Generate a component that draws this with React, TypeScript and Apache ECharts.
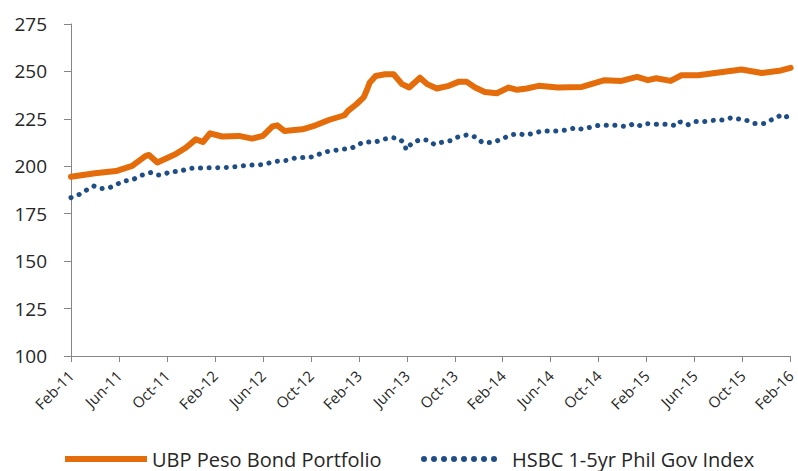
import React, { useEffect, useRef } from "react";
import * as echarts from "echarts";

// Month offsets from Feb-11 (0) to Feb-16 (60)
const tickLabels = [
  "Feb-11", "Jun-11", "Oct-11", "Feb-12", "Jun-12", "Oct-12", "Feb-13", "Jun-13",
  "Oct-13", "Feb-14", "Jun-14", "Oct-14", "Feb-15", "Jun-15", "Oct-15", "Feb-16",
];

const ubpMonths = [
  0, 2.0, 3.75, 5.1, 6.2, 6.5, 7.2, 8.7, 9.6, 10.4, 11.0, 11.6, 12.6, 14.0, 15.1, 16.0,
  16.8, 17.2, 17.8, 19.3, 20.4, 21.5, 22.8, 23.1, 23.8, 24.4, 24.7, 24.9, 25.4, 26.2,
  26.9, 27.6, 28.2, 29.1, 29.7, 30.5, 31.5, 32.3, 33.0, 33.7, 34.5, 35.5, 36.5, 37.2,
  38.0, 39.0, 40.6, 42.6, 44.5, 45.9, 47.2, 48.1, 48.8, 50.0, 50.9, 52.3, 53.7, 55.9,
  57.6, 59.2, 60,
];
const ubpValues = [
  194.5, 196.3, 197.5, 200.2, 205.4, 206, 202, 206.3, 209.9, 214.2, 212.8, 217.4, 215.7,
  216, 214.6, 216, 221, 221.6, 218.6, 219.5, 221.6, 224.4, 226.9, 229.2, 232.7, 236.3,
  240.6, 244, 247.6, 248.5, 248.5, 243.3, 241.5, 246.7, 243.3, 241, 242.4, 244.5, 244.5,
  241.5, 239.2, 238.5, 241.5, 240.3, 241, 242.4, 241.5, 241.8, 245.4, 245, 247.1, 245.4,
  246.4, 245, 248, 248, 249.2, 251, 249.2, 250.5, 251.9,
];

const hsbcMonths = [
  0, 0.7, 1.4, 1.9, 2.5, 3.2, 3.7, 4.3, 5.1, 5.9, 6.65, 7.2, 7.75, 8.3, 9.1, 9.55, 10.25,
  10.95, 12.6, 13.5, 14.6, 16.0, 17.0, 18.1, 18.8, 19.9, 20.6, 21.4, 22.6, 23.3, 23.75,
  24.4, 25.4, 26.0, 26.8, 27.35, 27.8, 27.95, 28.4, 29.15, 29.8, 30.3, 31.0, 31.65, 32.2,
  33.1, 33.85, 34.3, 35.1, 35.9, 36.6, 37.3, 37.9, 38.5, 39.3, 40.8, 41.5, 42.2, 42.6,
  44.0, 45.5, 46.3, 47.0, 47.5, 48.0, 48.8, 49.8, 50.5, 50.8, 51.4, 52.1, 52.8, 53.8,
  54.45, 55.1, 55.75, 56.3, 57.0, 57.8, 58.5, 59.2, 59.5, 60,
];
const hsbcValues = [
  183.5, 185.2, 187.9, 189.6, 188.2, 188.7, 190, 192.1, 192.8, 195.3, 196.7, 195.3, 195.8,
  197.2, 197.2, 198.4, 199.1, 199.1, 199.3, 199.6, 200.5, 200.9, 202.5, 203.2, 204.6,
  204.6, 206.2, 207.8, 209, 209.3, 210.7, 212.8, 212.8, 214.2, 215.1, 214.6, 212.1, 208.6,
  212.1, 214.2, 213.7, 211.5, 212.8, 213.5, 215.3, 216.7, 215.1, 212.5, 212.5, 214.2,
  216.4, 217.3, 216.4, 217.3, 218.6, 218.6, 219.5, 220.4, 219.5, 221.6, 221.6, 220.9,
  222.5, 221.3, 222.5, 222.2, 222.2, 221.3, 223.4, 221.8, 223.6, 223.6, 224.4, 224.4,
  225.7, 224.8, 224.3, 222.5, 222.5, 224.8, 226.9, 225.7, 227,
];

const seriesNames = ["UBP Peso Bond Portfolio", "HSBC 1-5yr Phil Gov Index"];

const FONT = "Open Sans";
const ORANGE = "#E46C0A";
const BLUE = "#1F4E86";

// legend icons
const solidIcon = "path://M0,0H82V6H0Z";
const dotIcon =
  "path://" +
  [0, 1, 2, 3, 4, 5, 6, 7]
    .map((i) => `M${i * 10},3a3,3 0 1,0 6,0a3,3 0 1,0 -6,0Z`)
    .join("") +
  "M85.98,0h0.02v6h-0.02Z";

const legendText = { fontFamily: FONT, fontSize: 20, color: "#262626" };

export default function App() {
  const ref = useRef<HTMLDivElement>(null);
  useEffect(() => {
    if (!ref.current) return;
    const chart = echarts.init(ref.current, null, { renderer: "svg" });
    chart.setOption({
      animation: false,
      backgroundColor: "#ffffff",
      grid: { left: 71, right: 5, top: 24, bottom: 115, containLabel: false },
      legend: [
        {
          left: 60,
          top: 444,
          itemWidth: 82,
          itemHeight: 6,
          textStyle: legendText,
          data: [{ name: seriesNames[0], icon: solidIcon }],
        },
        {
          left: 416,
          top: 444,
          itemWidth: 86,
          itemHeight: 6,
          textStyle: legendText,
          data: [{ name: seriesNames[1], icon: dotIcon }],
        },
      ],
      xAxis: {
        type: "value",
        min: 0,
        max: 60,
        interval: 4,
        axisLine: { show: true, lineStyle: { color: "#868686", width: 1 } },
        axisTick: { show: true, length: 6, inside: false, lineStyle: { color: "#868686" } },
        splitLine: { show: false },
        axisLabel: {
          rotate: 45,
          margin: 17,
          fontFamily: FONT,
          fontSize: 15,
          color: "#262626",
          formatter: (v: number) => tickLabels[Math.round(v / 4)] ?? "",
        },
      },
      yAxis: {
        type: "value",
        min: 100,
        max: 275,
        interval: 25,
        axisLine: { show: true, lineStyle: { color: "#868686", width: 1 } },
        axisTick: { show: true, length: 7, lineStyle: { color: "#868686" } },
        splitLine: { show: false },
        axisLabel: {
          margin: 24,
          fontFamily: FONT,
          fontSize: 19,
          color: "#262626",
        },
      },
      series: [
        {
          name: seriesNames[0],
          type: "line",
          data: ubpMonths.map((m, i) => [m, ubpValues[i]]),
          showSymbol: false,
          symbol: "none",
          color: ORANGE,
          lineStyle: { color: ORANGE, width: 6, join: "round", cap: "round" },
          z: 3,
        },
        {
          name: seriesNames[1],
          type: "line",
          data: hsbcMonths.map((m, i) => [m, hsbcValues[i]]),
          showSymbol: false,
          symbol: "none",
          color: BLUE,
          lineStyle: { color: BLUE, width: 5, type: [0.1, 8.5], cap: "round" },
          z: 2,
        },
      ],
    });
    return () => chart.dispose();
  }, []);
  return (
    <div
      ref={ref}
      style={{ position: "fixed", left: 0, top: 0, width: 798, height: 471 }}
    />
  );
}
